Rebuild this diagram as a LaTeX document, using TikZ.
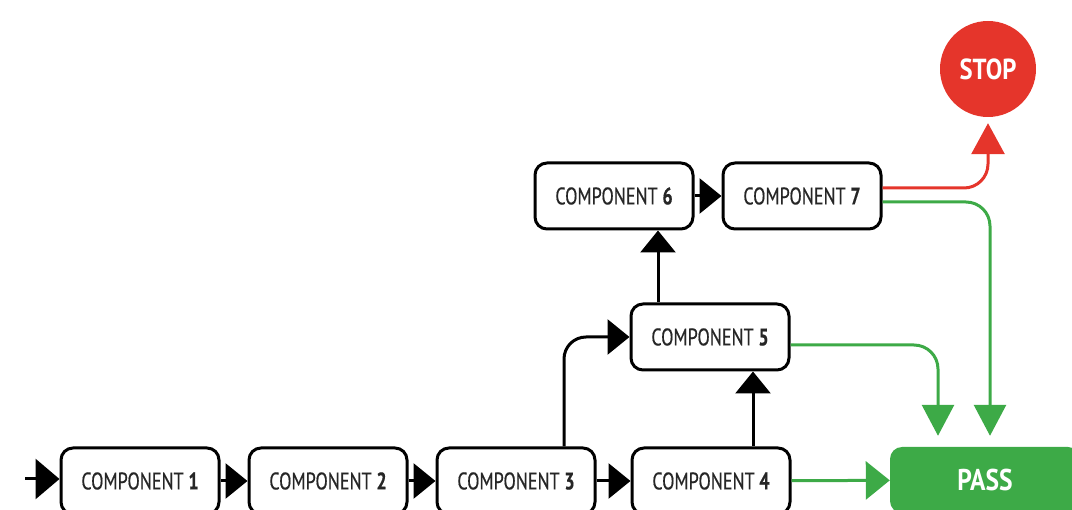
\documentclass[tikz,border=0pt]{standalone}
\usepackage{fontspec}
\newfontfamily\compfont[FakeStretch=0.75, FakeBold=0.5]{PT Sans}
\newfontfamily\signfont[FakeStretch=0.85]{PT Sans}
\definecolor{myRed}{HTML}{E5352B}
\definecolor{myGreen}{HTML}{3DAA47}
\usetikzlibrary{
  positioning,
  arrows.meta
}

\begin{document}
\begin{tikzpicture}[x=1pt, y=-1pt,
    comp/.style={draw, line width=3pt, rounded corners=12pt, minimum width=158pt,
      minimum height=66pt, inner sep=0pt, text=black!85, font=\compfont\fontsize{24}{24}\selectfont},
    flow/.style={line width=3pt, -{Triangle[length=22pt, width=35pt]}},
    bigflow/.style={line width=3pt, -{Triangle[length=24pt, width=40pt]}},
    okflow/.style={myGreen, line width=3pt, rounded corners=24pt, -{Triangle[length=31pt, width=32pt]}},
    ngflow/.style={myRed, line width=3pt, rounded corners=24pt, -{Triangle[length=31pt, width=33pt]}}]
      \useasboundingbox (0,0) rectangle (1072,510);
      \clip (0,0) rectangle (1072,510);

      % 下の段
      \node[comp] (C1) at (140,481) {COMPONENT \textbf{1}};
      \node[comp] (C2) at (328,481) {COMPONENT \textbf{2}};
      \node[comp] (C3) at (516,481) {COMPONENT \textbf{3}};
      \node[comp] (C4) at (711,481) {COMPONENT \textbf{4}};
      % 中の段
      \node[comp] (C5) at (710,337) {COMPONENT \textbf{5}};
      % 上の段
      \node[comp] (C6) at (614,196) {COMPONENT \textbf{6}};
      \node[comp] (C7) at (802,196) {COMPONENT \textbf{7}};

      % STOPとPASS
      \node[circle, fill=myRed, minimum size=96pt, inner sep=0pt, text=white,
        font=\signfont\bfseries\fontsize{29}{29}\selectfont] (STOP) at (988,69) {STOP};
      \node[fill=myGreen, rounded corners=12pt, minimum width=190pt, minimum height=66pt,
        inner sep=0pt, text=white, font=\signfont\bfseries\fontsize{30}{30}\selectfont] (PASS) at (985,480) {PASS};

      % 入口
      \coordinate (IN) at (25,479);
      \coordinate (C3up) at ([xshift=48pt]C3.north);
      \coordinate (C4up) at ([xshift=42pt]C4.north);
      \coordinate (C6in) at ([xshift=44pt]C6.south);
      \coordinate (P1) at ([xshift=-47pt]PASS.north);
      \coordinate (P2) at ([xshift=5pt]PASS.north);

      % 黒い矢印
      \draw[bigflow] (IN) -- (IN -| C1.west);
      \draw[flow] (C1) -- (C2);
      \draw[flow] (C2) -- (C3);
      \draw[flow] (C3) -- (C4);
      \draw[flow, rounded corners=22pt] (C3up) |- (C5.west);
      \draw[flow] (C4up) -- (C4up |- C5.south);
      \draw[flow] (C6in |- C5.north) -- (C6in);
      \draw[flow] (C6) -- (C7);

      % C7からSTOPへ
      \draw[ngflow, shorten >=6pt] ([yshift=8pt]C7.east) -| (STOP.south);
      % PASSへの緑の矢印
      \draw[okflow, shorten >=11pt] ([yshift=-6pt]C7.east) -| (P2);
      \draw[okflow, shorten >=11pt] ([yshift=-8pt]C5.east) -| (P1);
      \draw[okflow, -{Triangle[length=24pt, width=38pt]}] (C4) -- (PASS);
\end{tikzpicture}
\end{document}
